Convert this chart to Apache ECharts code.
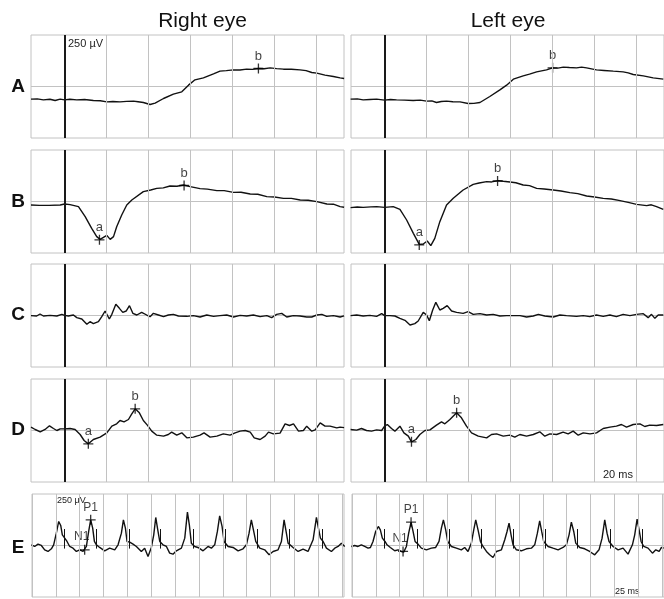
<!DOCTYPE html>
<html>
<head>
<meta charset="utf-8">
<script src="https://cdn.jsdelivr.net/npm/echarts@6/dist/echarts.min.js"></script>
<style>
  html, body { margin: 0; padding: 0; background: #fff; }
  #main { width: 664px; height: 599px; }
</style>
</head>
<body>
<div id="main"></div>
<script>
// x = time in ms, y = amplitude in µV (250 µV per division)
const eyeTitles = ['Right eye', 'Left eye'];
const rowLabels = ['A', 'B', 'C', 'D', 'E'];
const flashTicks = [0, 20, 40, 60, 80, 100, 120];     // 20 ms / div
const flickerTicks = [0, 25, 50, 75, 100, 125, 150, 175, 200, 225, 250, 275, 300, 325]; // 25 ms / div

// ---- A ----
const aRightEye = [[-16,-61.5],[-13,-60],[-10.1,-64.7],[-7,-62],[-4.5,-68],[-2.1,-61.5],[0,-64.7],[2.5,-62],[5.8,-64.7],[9.5,-63],[13.7,-68],[17,-69],[20.1,-74.4],[23,-73],[26.4,-74.4],[29.5,-72],[32.8,-71.2],[35,-74],[37.5,-77.7],[40.7,-87.4],[43.1,-80.9],[47.1,-58.2],[51.8,-37.2],[55.8,-25.9],[59,6.5],[62.1,32.4],[66.1,42],[70.9,61.5],[74,74.4],[77,77],[80.4,80.9],[83.5,80],[86.7,84.1],[89.5,83],[92.3,87.4],[95,86],[97.9,90.6],[101,87],[104.2,84.1],[108,84],[112.1,80.9],[115,77],[117.7,68],[120.1,64.7],[124,55],[128,48.5],[131.2,42],[133.1,39]];
const aRightEyeMarks = [['b', 92.3, 87.4]];
const aLeftEye = [[-16.2,-61.5],[-13,-60],[-10.2,-64.7],[-7,-63],[-3.8,-61.5],[0,-66.3],[2.8,-63],[5.7,-64.7],[9.5,-66],[13.6,-68],[17,-66],[20,-71.2],[22.5,-70],[24.7,-77.7],[27,-73],[29.5,-71.2],[32.5,-74],[35.9,-74.4],[39.8,-82.5],[42.5,-82],[45.4,-77.7],[50.1,-48.5],[54.9,-16.2],[58.1,6.5],[61.3,35.6],[66,51.8],[69,60],[72.4,71.2],[77.1,80.9],[80,90.6],[82.5,89],[85.1,93.9],[88,92],[91.4,90.6],[93.8,94],[96.2,90.6],[100.9,80.9],[104.5,78],[108.9,74.4],[113.6,71.2],[116,66],[118.4,58.2],[123.2,51.8],[127.9,42],[132.7,35.6]];
const aLeftEyeMarks = [['b', 80.0, 90.6]];

// ---- B ----
const bRightEye = [[-16,-17],[-12,-19],[-7.4,-18.6],[-2.1,-17],[0,-12.1],[2.6,-15.4],[6.6,-25.1],[9.8,-73.6],[12.9,-130.3],[15.3,-170.7],[16.9,-183.7],[18.5,-173.9],[20.1,-164.2],[21.7,-183.7],[23.3,-170.7],[24.8,-122.2],[27.2,-65.5],[29.6,-17],[32,7.3],[37.5,47.7],[41,56],[43.9,63.9],[47,66],[50.2,75.2],[53.5,74],[56.6,80.1],[59.8,72],[64.5,62.3],[68,60],[72.5,52.6],[76,53],[80.4,44.5],[84,45],[88.4,36.4],[92,35],[96.3,23.5],[100,22],[104.2,15.4],[108,15],[112.2,7.3],[116,6],[120.1,-0.8],[124.9,-12.1],[128,-13],[131.2,-25.1],[133.1,-28]];
const bRightEyeMarks = [['a', 16.6, -186], ['b', 56.9, 77.7]];
const bLeftEye = [[-16.2,-29.9],[-13,-27],[-10.2,-28.3],[-6.5,-26],[-3.8,-25.1],[0,-28.3],[4.1,-25.1],[7.3,-38],[10.5,-89.8],[13.7,-154.5],[16.5,-207.9],[18.4,-206.3],[20.3,-191.7],[22,-214.4],[23.9,-178.8],[26.3,-97.9],[29.5,-17],[32.7,15.4],[37.4,55.8],[42.2,83.3],[45,90],[48.6,96.3],[51,95],[54.1,101.1],[56.5,98],[59.7,94.7],[62.5,91],[66,80.1],[69,77],[72.4,63.9],[76,61],[80.3,55.8],[84,51],[88.2,42.9],[92,38],[96.2,26.7],[100,22],[104.1,15.4],[108,12],[112.1,4],[116,-4],[120,-13.8],[124.8,-20.2],[127,-16],[129.5,-25.1],[132.7,-38]];
const bLeftEyeMarks = [['a', 16.5, -211], ['b', 53.8, 99.5]];

// ---- C ----
const cRightEye = [[-16,-0.8],[-13.3,-2.4],[-11.7,7.3],[-10.1,-2.4],[-6.9,0.8],[-3.7,-2.4],[-1.3,5.7],[0,0.8],[1.8,-2.4],[4.2,2.4],[5.8,-10.5],[8.2,-17],[10.6,-42.9],[12.1,-29.9],[13.7,-39.6],[16.1,-29.9],[17.7,-5.7],[19.3,21.8],[21.3,-17],[22.5,5.7],[24.4,54.2],[26.1,34.8],[27.7,15.4],[29.3,21.8],[30.9,47.7],[32.5,10.5],[34.4,2.4],[36.7,15.4],[39.1,2.4],[40.7,-5.7],[42.3,10.5],[44.7,2.4],[47.1,-5.7],[49.4,2.4],[51.8,5.7],[54.2,-2.4],[58.2,-4],[61.3,-0.8],[64.5,-7.3],[67.7,2.4],[70.9,-4],[74,-0.8],[77.2,2.4],[80.4,-7.3],[83.6,0.8],[86.7,-2.4],[89.9,2.4],[93.1,-5.7],[96.3,-0.8],[98.6,-10.5],[101,5.7],[103.4,10.5],[105.8,-7.3],[108.9,-0.8],[112.1,-2.4],[115.3,-7.3],[117.7,-7.3],[120.1,2.4],[122.5,5.7],[124.8,-4],[128,-0.8],[131.2,-7.3],[133.1,-2]];
const cRightEyeMarks = [];
const cLeftEye = [[-16.2,-0.8],[-13.3,2.4],[-10.2,-2.4],[-7,0.8],[-3.8,-4],[-1.4,8.9],[0,-0.8],[2.5,-0.8],[4.9,-2.4],[7.3,-13.8],[9.7,-23.5],[12.1,-46.1],[14.4,-39.6],[16,-26.7],[18.4,15.4],[20,2.4],[21.3,-25.1],[22.9,26.7],[24.4,63.9],[26.3,26.7],[27.9,34.8],[29.8,47.7],[31.9,21.8],[34.3,15.4],[37.4,10.5],[39.8,18.6],[42.2,5.7],[45.4,8.9],[48.6,2.4],[51.7,5.7],[54.9,-2.4],[58.1,-0.8],[61.3,-0.8],[64.5,-0.8],[67.6,-7.3],[70.8,-2.4],[73.2,5.7],[76.3,-2.4],[80.3,-7.3],[83.5,2.4],[86.6,-0.8],[91.4,-4],[94.6,-0.8],[97.7,-5.7],[100.9,2.4],[104.1,-4],[107.3,2.4],[110.4,-5.7],[113.6,5.7],[116.8,-0.8],[120,5.7],[123.2,8.9],[125.5,-10.5],[127.1,5.7],[128.7,-13.8],[130.3,2.4],[132.7,2.4]];
const cLeftEyeMarks = [];

// ---- D ----
const dRightEye = [[-16,16.2],[-14,4.9],[-11.6,-6.5],[-9.3,4.9],[-7.2,22.7],[-5.3,9.7],[-3.7,0],[-2.1,8.1],[0,8.1],[2.6,9.7],[5,4.9],[7.4,-19.4],[9.3,-48.5],[11.3,-64.7],[13.7,-43.7],[16.9,-32.4],[20.1,-11.3],[22.5,21],[24.8,32.4],[26.4,48.5],[28.3,42.1],[30.4,53.4],[32,80.9],[33.6,105.2],[35.6,85.8],[37.5,48.5],[39.4,25.9],[41.5,-3.2],[43.9,-22.7],[47.1,-27.5],[49.4,-19.4],[51,-8.1],[53.4,-22.7],[55.8,-11.3],[58.2,-35.6],[61.3,-32.4],[64.5,-22.7],[66.4,-11.3],[69.3,-32.4],[72.5,-27.5],[75.6,-16.2],[78.8,-22.7],[81.2,-11.3],[83.6,-3.2],[86,0],[88.4,-8.1],[90.3,-35.6],[93.1,-43.7],[95.5,-27.5],[97.1,-8.1],[99.4,-16.2],[102.6,-12.9],[105,32.4],[107.1,24.3],[109,32.4],[111.4,-3.2],[113.7,0],[115.3,21],[117.7,-3.2],[119.3,3.2],[121.7,37.2],[124,21],[126.4,21],[129.6,12.9],[131.2,16.2],[133.1,14]];
const dRightEyeMarks = [['a', 11.3, -64.7], ['b', 33.6, 105.2]];
const dLeftEye = [[-16.2,4.9],[-13.3,1.6],[-11,9.7],[-8.6,0],[-6.2,-3.2],[-3.8,3.2],[-1.4,0],[0,21],[1.3,29.1],[3.3,9.7],[4.9,-3.2],[7.3,21],[9.2,-11.3],[11.3,-27.5],[12.8,-55],[14.9,-43.7],[16.8,-19.4],[19.2,0],[21.6,3.2],[24.7,25.9],[27.1,42.1],[28.7,32.4],[31.1,53.4],[34.3,85.8],[36.6,61.5],[39,21],[41.4,-11.3],[44.6,-27.5],[48.6,-35.6],[50.9,-19.4],[53.3,-16.2],[56.5,-27.5],[59.7,-22.7],[62,-32.4],[64.4,-19.4],[67.6,-27.5],[70.8,-19.4],[73.9,-6.5],[76.3,-27.5],[78.7,-16.2],[81.9,-19.4],[85,-8.1],[87.4,-16.2],[89.8,-3.2],[92.2,-22.7],[94.6,-11.3],[97.8,-16.2],[100.9,-11.3],[104.1,9.7],[107.3,16.2],[110.4,21],[112.8,29.1],[115.2,16.2],[118.4,29.1],[121.6,32.4],[123.9,19.4],[126.3,25.9],[129.5,24.3],[132.7,29.1]];
const dLeftEyeMarks = [['a', 12.8, -55.0], ['b', 34.3, 85.8]];

// ---- E (30 Hz flicker) ----
const eRightEye = [[-0.7,3.4],[2.8,-4.7],[6.3,6.6],[9.8,0.2],[13.3,-20.9],[16.8,-29],[20.3,-16],[22.7,3.4],[25.5,60],[28,116.6],[30.1,97.2],[31.8,51.9],[34.3,35.8],[36.7,19.6],[39.5,-4.7],[43,-12.8],[46.5,-29],[50,-20.9],[53.5,-29],[57,-4.7],[59.4,68.1],[61.5,124.8],[63.6,84.3],[65.4,19.6],[67.5,3.4],[70.9,-9.5],[76.2,-25.7],[81.4,-12.8],[86.7,-20.9],[90.2,3.4],[93.7,60],[95.8,124.8],[97.9,84.3],[99.6,19.6],[102.4,16.3],[105.9,6.6],[109.4,-4.7],[114.6,-29],[118.1,-12.8],[121.6,-53.2],[125.1,-9.5],[127.6,51.9],[129.7,136.1],[131.8,76.2],[133.9,19.6],[137.3,3.4],[140.9,-4.7],[144.3,-37.1],[147.8,-41.9],[151.3,-25.7],[156.6,-12.8],[160.1,35.8],[162.9,162],[164.9,100.5],[167,11.5],[170.5,-4.7],[174,-9.5],[179.3,-25.7],[184.5,-4.7],[188,-12.8],[191.5,3.4],[194.3,68.1],[196.7,144.2],[199.2,92.4],[201.3,19.6],[205.5,-4.7],[210.7,-9.5],[216,-25.7],[221.2,-16],[224.7,3.4],[227.5,60],[229.9,124.8],[232.4,68.1],[234.5,19.6],[238.7,-12.8],[243.9,-20.9],[248.5,-45.1],[252.7,-29],[257.9,-20.9],[261.4,19.6],[264.2,124.8],[266.3,68.1],[268.4,11.5],[273.6,-9.5],[278.9,-29],[284.1,-17.6],[289.3,-29],[294.6,27.7],[298.1,136.1],[300.2,84.3],[302.3,35.8],[305.1,19.6],[308.6,-12.8],[313.8,-29],[317.3,-12.8],[320.8,-4.7],[324.3,11.5],[327.8,-4.7]];
const eRightEyeMarks = [['N1', 55.2, -20.9], ['P1', 61.5, 124.8]];
const eRightEyeStim = [33.9, 67.5, 102.4, 134.9, 168.8, 202.7, 236.2, 270.1, 304.0];
const eLeftEye = [[-0.7,-4.7],[2.8,0.2],[6.3,-4.7],[9.8,3.4],[13.3,-4.7],[16.8,-12.8],[19.3,-9.5],[22,19.6],[24.8,68.1],[27.6,92.4],[29.7,76.2],[31.8,35.8],[34.6,19.6],[36.7,3.4],[40.2,-9.5],[44.8,-25.7],[48.3,-20.9],[51.7,-29],[54.2,-32.2],[57,-4.7],[59.4,60],[61.9,113.4],[64,68.1],[66.1,19.6],[69.2,6.6],[72.7,-12.8],[78,-20.9],[83.2,-12.8],[87.7,-9.5],[91.2,19.6],[93.7,84.3],[95.8,124.8],[98.2,76.2],[100.3,19.6],[104.2,-4.7],[109.4,-12.8],[114.6,-20.9],[118.1,-9.5],[121.6,-29],[125.1,11.5],[127.6,76.2],[129.7,124.8],[132.1,76.2],[134.6,19.6],[137.3,-4.7],[140.9,-29],[144.3,-45.1],[147.8,-58.1],[151.3,-29],[156.6,-20.9],[160.1,27.7],[162.5,68.1],[164.6,108.6],[166.7,51.9],[168.8,3.4],[172.3,-20.9],[177.5,-25.7],[182.8,-16],[188,-12.8],[191.5,3.4],[194.3,60],[196.7,119.9],[198.8,68.1],[200.9,19.6],[205.5,-4.7],[210.7,-12.8],[216,-20.9],[221.2,-9.5],[224.7,3.4],[227.5,51.9],[229.9,113.4],[232.4,68.1],[234.5,11.5],[238.7,-9.5],[243.9,-16],[249.1,-29],[254.4,-45.1],[258.9,-20.9],[262.1,35.8],[264.9,124.8],[267.3,60],[269.4,19.6],[273.6,-4.7],[278.9,-20.9],[284.1,-12.8],[289.3,-41.9],[293.9,3.4],[296.3,51.9],[298.8,128],[300.9,76.2],[303,19.6],[305.8,-4.7],[310.3,-12.8],[314.9,-37.1],[318.4,-20.9],[321.9,-29],[324.3,-9.5],[326.7,-12.8]];
const eLeftEyeMarks = [['N1', 53.5, -29.0], ['P1', 61.9, 113.4]];
const eLeftEyeStim = [33.9, 68.5, 101.7, 135.3, 168.8, 202.7, 236.2, 270.8, 304.4];
const stimTickSpan = [80, -15];

const panels = [
  { row: 0, col: 0, trace: aRightEye, marks: aRightEyeMarks },
  { row: 0, col: 1, trace: aLeftEye, marks: aLeftEyeMarks },
  { row: 1, col: 0, trace: bRightEye, marks: bRightEyeMarks },
  { row: 1, col: 1, trace: bLeftEye, marks: bLeftEyeMarks },
  { row: 2, col: 0, trace: cRightEye, marks: cRightEyeMarks },
  { row: 2, col: 1, trace: cLeftEye, marks: cLeftEyeMarks },
  { row: 3, col: 0, trace: dRightEye, marks: dRightEyeMarks },
  { row: 3, col: 1, trace: dLeftEye, marks: dLeftEyeMarks },
  { row: 4, col: 0, trace: eRightEye, marks: eRightEyeMarks, stim: eRightEyeStim },
  { row: 4, col: 1, trace: eLeftEye, marks: eLeftEyeMarks, stim: eLeftEyeStim }
];

// layout
const rowTop = [35, 150, 264, 379, 494];
const panelH = 103;
const FONT = '"Liberation Sans", Arial, Helvetica, sans-serif';
const GRID_COLOR = '#c2c2c2';
const crossPath = 'path://M0,4.35H10V5.65H0Z M4.35,0H5.65V10H4.35Z';

const chart = echarts.init(document.getElementById('main'), null, { renderer: 'canvas' });

let grids = [], xAxes = [], yAxes = [], series = [];

panels.forEach((p, i) => {
  const flicker = p.row === 4;
  const left = flicker ? (p.col ? 352 : 32) : (p.col ? 351 : 31);
  const width = flicker ? 312 : 313;
  const xMin = flicker ? 0 : -16;
  const xMax = flicker ? 327 : 133.05;
  const ticks = flicker ? flickerTicks : flashTicks;

  grids.push({ left: left, top: rowTop[p.row], width: width, height: panelH,
    show: true, borderColor: GRID_COLOR, borderWidth: 1, backgroundColor: 'transparent' });
  xAxes.push({ gridIndex: i, type: 'value', min: xMin, max: xMax, show: false });
  yAxes.push({ gridIndex: i, type: 'value', min: -250, max: 250, show: false });

  // grid: horizontal midline drawn as a flat line, verticals as markLines
  let gridLines = ticks.map(v => ({ xAxis: v }));
  if (!flicker) {
    gridLines.push({ xAxis: 0, lineStyle: { color: '#1a1a1a', width: 2 } });
  }
  series.push({
    type: 'line', xAxisIndex: i, yAxisIndex: i, z: 1, silent: true,
    data: [[xMin, 0], [xMax, 0]], symbol: 'none',
    lineStyle: { color: GRID_COLOR, width: 1 },
    markLine: {
      silent: true, symbol: ['none', 'none'], animation: false,
      label: { show: false },
      lineStyle: { color: GRID_COLOR, width: 1, type: 'solid' },
      emphasis: { disabled: true },
      data: gridLines
    }
  });

  // the response trace
  let trace = {
    type: 'line', xAxisIndex: i, yAxisIndex: i, z: 3, silent: true,
    data: p.trace, symbol: 'none', smooth: false,
    lineStyle: { color: '#111', width: 1.4 }
  };
  if (p.stim) {
    trace.markLine = {
      silent: true, symbol: ['none', 'none'], animation: false,
      label: { show: false },
      lineStyle: { color: '#111', width: 1, type: 'solid' },
      emphasis: { disabled: true },
      data: p.stim.map(t => [{ coord: [t, stimTickSpan[0]] }, { coord: [t, stimTickSpan[1]] }])
    };
  }
  series.push(trace);

  // a / b / N1 / P1 cursors
  if (p.marks.length) {
    series.push({
      type: 'scatter', xAxisIndex: i, yAxisIndex: i, z: 4, silent: true,
      symbol: crossPath, symbolSize: 10,
      itemStyle: { color: '#000' },
      label: {
        show: true, position: 'top', distance: 1,
        formatter: '{b}', color: '#111', fontFamily: FONT,
        fontSize: flicker ? 12 : 13
      },
      data: p.marks.map(m => ({
        name: m[0], value: [m[1], m[2]],
        label: m[0] === 'N1' ? { offset: [-3, -1] } : {}
      }))
    });
  }
});

const graphics = [];
eyeTitles.forEach((t, c) => {
  graphics.push({ type: 'text', x: c ? 508 : 202.5, y: 21.5,
    style: { text: t, font: '21px ' + FONT, fill: '#111', textAlign: 'center', textVerticalAlign: 'middle' } });
});
const rowLabelY = [87, 202, 315, 430, 548];
rowLabels.forEach((t, r) => {
  graphics.push({ type: 'text', x: 18, y: rowLabelY[r],
    style: { text: t, font: 'bold 19px ' + FONT, fill: '#111', textAlign: 'center', textVerticalAlign: 'middle' } });
});
graphics.push({ type: 'text', x: 68, y: 44,
  style: { text: '250 µV', font: '11px ' + FONT, fill: '#222', textVerticalAlign: 'middle' } });
graphics.push({ type: 'text', x: 57, y: 501,
  style: { text: '250 µV', font: '9px ' + FONT, fill: '#222', textVerticalAlign: 'middle' } });
graphics.push({ type: 'text', x: 603, y: 475,
  style: { text: '20 ms', font: '11px ' + FONT, fill: '#222', textVerticalAlign: 'middle' } });
graphics.push({ type: 'text', x: 615, y: 592,
  style: { text: '25 ms', font: '9px ' + FONT, fill: '#222', textVerticalAlign: 'middle' } });

chart.setOption({
  animation: false,
  backgroundColor: '#fff',
  grid: grids,
  xAxis: xAxes,
  yAxis: yAxes,
  series: series,
  graphic: graphics
});
</script>
</body>
</html>
